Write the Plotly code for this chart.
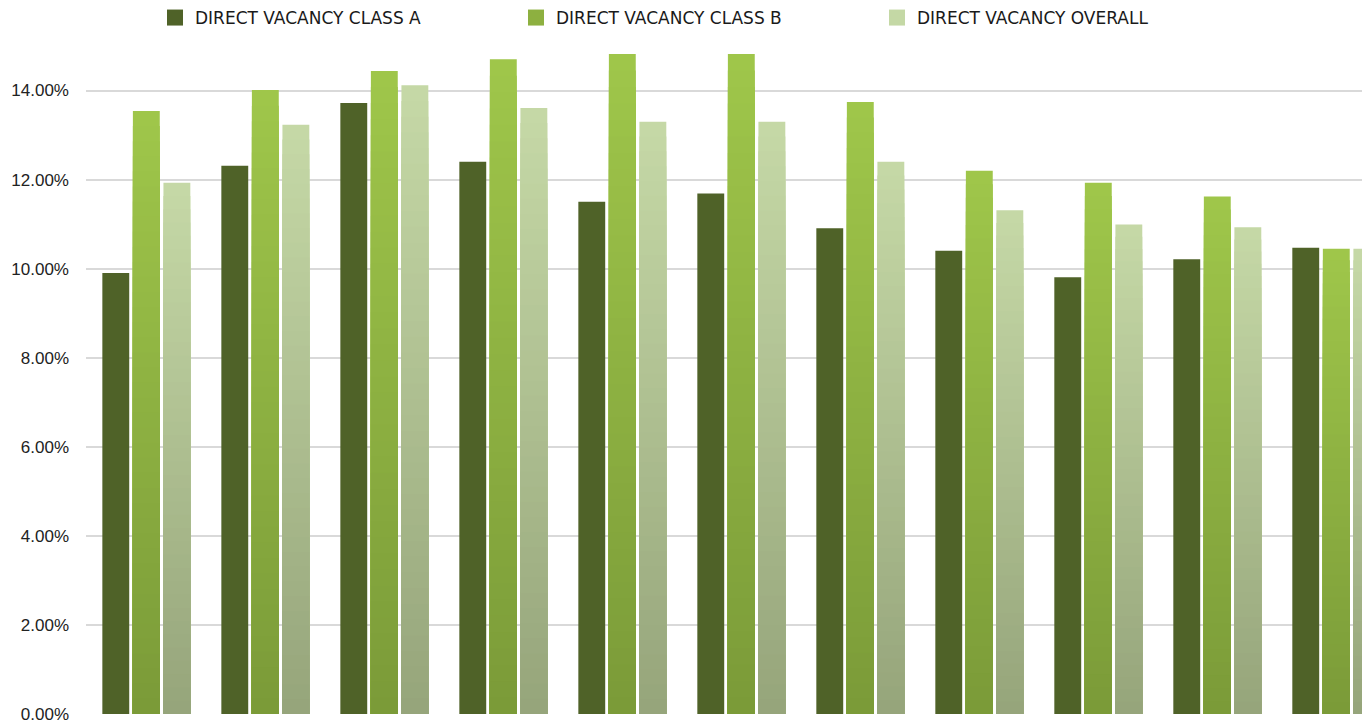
import plotly.graph_objects as go

# Direct vacancy rate by period (percent)
periods = [f"Period {i}" for i in range(1, 12)]
class_a = [9.90, 12.31, 13.72, 12.40, 11.50, 11.69, 10.91, 10.40, 9.81, 10.21, 10.47]
class_b = [13.54, 14.01, 14.44, 14.70, 14.82, 14.82, 13.74, 12.20, 11.93, 11.62, 10.45]
overall = [11.93, 13.23, 14.12, 13.61, 13.30, 13.30, 12.40, 11.31, 10.99, 10.93, 10.45]

# Y axis ticks (percent)
y_ticks = [0, 2, 4, 6, 8, 10, 12, 14]
y_tick_labels = [f"{v:.2f}%" for v in y_ticks]

series = [
    # name, values, bottom colour, top colour, legend colour
    ("DIRECT VACANCY CLASS A", class_a, "#4F6228", "#4F6228", "#4F6228"),
    ("DIRECT VACANCY CLASS B", class_b, "#7A9A38", "#9FC64A", "#8DB040"),
    ("DIRECT VACANCY OVERALL", overall, "#95A47A", "#C5D8A6", "#C4D8A5"),
]

STEPS = 40


def hex_to_rgb(h):
    h = h.lstrip("#")
    return tuple(int(h[i:i + 2], 16) for i in (0, 2, 4))


def blend(c0, c1, t):
    a, b = hex_to_rgb(c0), hex_to_rgb(c1)
    r = [round(a[i] + (b[i] - a[i]) * t) for i in range(3)]
    return f"rgb({r[0]},{r[1]},{r[2]})"


fig = go.Figure()

# Vertical gradient per bar: overlay progressively shorter bars, each a little
# darker, so the colour shifts from the top of every bar down to its base.
for idx, (name, vals, c_bot, c_top, _) in enumerate(series):
    solid = c_bot == c_top
    steps = 1 if solid else STEPS
    for k in range(steps):
        frac = 1 - k / steps
        fig.add_trace(go.Bar(
            x=periods,
            y=[v * frac for v in vals],
            offsetgroup=str(idx),
            alignmentgroup="g",
            marker=dict(color=blend(c_bot, c_top, frac), line=dict(width=0)),
            showlegend=False,
            hoverinfo="skip" if k else "y",
        ))

# Legend entries
for name, _, _, _, legend_color in series:
    fig.add_trace(go.Scatter(
        x=[None], y=[None], mode="markers", name=name,
        marker=dict(symbol="square", size=16, color=legend_color),
    ))

fig.update_layout(
    width=1365,
    height=727,
    margin=dict(l=86, r=3, t=46, b=10),
    paper_bgcolor="white",
    plot_bgcolor="white",
    barmode="group",
    bargap=0.23,
    bargroupgap=0.12,
    legend=dict(
        orientation="h",
        xref="container", yref="container",
        x=155 / 1365, xanchor="left",
        y=1.0, yanchor="top",
        entrywidth=316, entrywidthmode="pixels",
        font=dict(family="DejaVu Sans", size=17, color="#1a1a1a"),
        itemsizing="trace",
    ),
    xaxis=dict(
        type="category",
        range=[-0.507, 10.216],
        showticklabels=False,
        showgrid=False,
        zeroline=False,
        ticks="",
    ),
    yaxis=dict(
        range=[0, 15.0],
        tickmode="array",
        tickvals=y_ticks,
        ticktext=y_tick_labels,
        showgrid=True,
        gridcolor="#D9D9D9",
        gridwidth=2,
        zeroline=False,
        ticklabelstandoff=16,
        tickfont=dict(family="Liberation Sans", size=17, color="#222222"),
    ),
)

fig.write_html("out.html")
